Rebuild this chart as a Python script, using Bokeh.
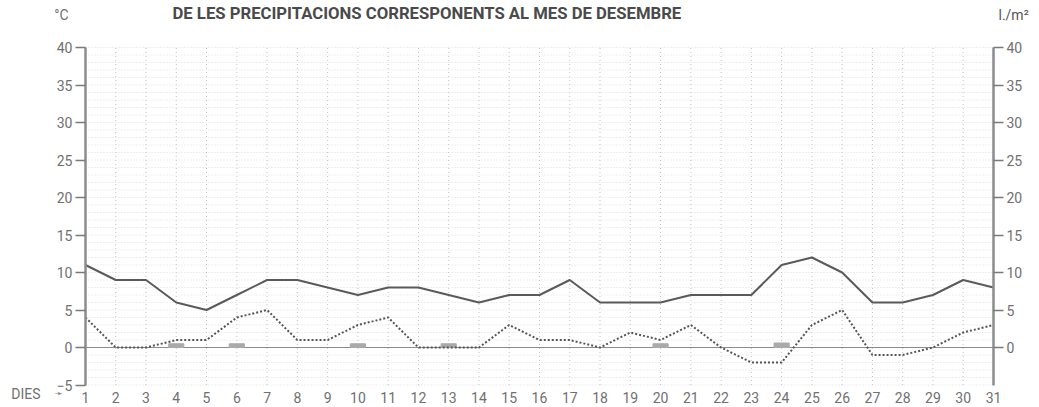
from bokeh.plotting import figure
from bokeh.models import LinearAxis, Range1d, FixedTicker, Label
from bokeh.embed import file_html
from bokeh.resources import INLINE

days = list(range(1, 32))
t_max = [11, 9, 9, 6, 5, 7, 9, 9, 8, 7, 8, 8, 7, 6, 7, 7, 9, 6, 6, 6, 7, 7, 7, 11, 12, 10, 6, 6, 7, 9, 8]
t_min = [4, 0, 0, 1, 1, 4, 5, 1, 1, 3, 4, 0, 0, 0, 3, 1, 1, 0, 2, 1, 3, 0, -2, -2, 3, 5, -1, -1, 0, 2, 3]
rain_days = [4, 6, 10, 13, 20, 24]
rain = [0.5, 0.5, 0.5, 0.5, 0.5, 0.6]
left_ticks = [-5, 0, 5, 10, 15, 20, 25, 30, 35, 40]
right_ticks = [0, 5, 10, 15, 20, 25, 30, 35, 40]
grid_y = list(range(-5, 41))

TITLE = "DE LES PRECIPITACIONS CORRESPONENTS AL MES DE DESEMBRE"
FONT = "Roboto"
TXT = "#707070"
Y0, Y1 = -5, 40
X0, X1 = days[0], days[-1]

p = figure(width=1039, height=407,
           x_range=Range1d(-1.808, 32.52), y_range=Range1d(-8.0, 46.27),
           output_backend="svg", toolbar_location=None, min_border=0)
p.outline_line_color = None
p.xgrid.visible = False
p.ygrid.visible = False


def style_vaxis(ax, ticks):
    ax.ticker = FixedTicker(ticks=ticks)
    ax.bounds = (Y0, Y1)
    ax.axis_line_color = "#8c8c8c"
    ax.axis_line_width = 2.5
    ax.major_tick_out = 10
    ax.major_tick_in = 0
    ax.major_tick_line_color = "#7a7a7a"
    ax.major_tick_line_width = 1.5
    ax.minor_tick_line_color = None
    ax.major_label_standoff = 3
    ax.major_label_text_font = FONT
    ax.major_label_text_font_size = "14px"
    ax.major_label_text_color = TXT


# left (temperature) axis, drawn at day 1
ya = p.yaxis[0]
style_vaxis(ya, left_ticks)
ya.fixed_location = X0

# right (precipitation) axis, drawn at day 31
p.extra_y_ranges = {"prec": Range1d(-8.0, 46.27)}
ra = LinearAxis(y_range_name="prec")
style_vaxis(ra, right_ticks)
ra.fixed_location = X1
p.add_layout(ra, "right")

# day axis, drawn at -5
xa = p.xaxis[0]
xa.ticker = FixedTicker(ticks=days)
xa.fixed_location = Y0
xa.axis_line_color = None
xa.major_tick_line_color = None
xa.minor_tick_line_color = None
xa.major_label_standoff = 1
xa.major_label_text_font = FONT
xa.major_label_text_font_size = "14px"
xa.major_label_text_color = TXT

# dotted grid
p.segment(x0=[X0] * len(grid_y), y0=grid_y, x1=[X1] * len(grid_y), y1=grid_y,
          line_color="#dedede", line_dash="1 2", line_width=1)
p.segment(x0=days[1:-1], y0=[Y0] * (len(days) - 2), x1=days[1:-1], y1=[Y1] * (len(days) - 2),
          line_color="#c2c2c2", line_dash="1 3", line_width=1)
# zero line
p.line([X0, X1], [0, 0], line_color="#8c8c8c", line_width=1)

p.vbar(x=rain_days, top=rain, bottom=0, width=0.5, color="#aaaaaa", y_range_name="prec")
p.line(days, t_max, line_color="#5a5a5a", line_width=2)
p.line(days, t_min, line_color="#555555", line_width=2, line_dash="2 2")

p.add_layout(Label(x=X0, y=Y1, x_offset=87, y_offset=34, text=TITLE, text_font=FONT,
                   text_font_style="bold", text_font_size="16.7px", text_color="#4a4a4a",
                   text_baseline="middle", text_align="left"))
p.add_layout(Label(x=X0, y=Y1, x_offset=-17, y_offset=33, text="°C", text_font=FONT,
                   text_font_size="14px", text_color=TXT, text_baseline="middle", text_align="right"))
p.add_layout(Label(x=X1, y=Y1, x_offset=5, y_offset=33, text="l./m²", text_font=FONT,
                   text_font_size="14px", text_color="#555555", text_baseline="middle", text_align="left"))
p.add_layout(Label(x=X0, y=Y0, x_offset=-45, y_offset=-9, text="DIES", text_font=FONT,
                   text_font_size="14px", text_color=TXT, text_baseline="middle", text_align="right"))
p.add_layout(Label(x=X0, y=Y0, x_offset=-31, y_offset=-8, text="➛", text_font="DejaVu Sans",
                   text_font_size="10px", text_color="#888888", text_baseline="middle", text_align="left"))

open("out.html", "w").write(file_html(p, INLINE))
